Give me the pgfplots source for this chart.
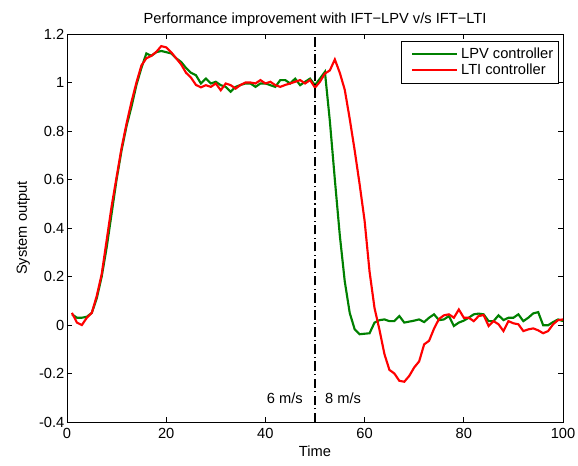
\documentclass[border=0pt]{standalone}
\usepackage{fontspec}
\setmainfont{Liberation Sans}
\usepackage{pgfplots}
\pgfplotsset{compat=1.18}
\definecolor{lpvgreen}{rgb}{0,0.5,0}
\begin{document}
\begin{tikzpicture}
\begin{axis}[
  scale only axis, width=372pt, height=291pt,
  xmin=0, xmax=100, ymin=-0.4, ymax=1.2,
  xtick={0,20,40,60,80,100},
  ytick={-0.4,-0.2,0,0.2,0.4,0.6,0.8,1,1.2},
  tick align=inside, major tick length=4pt,
  axis line style={line width=0.7pt}, tick style={line width=0.6pt, black},
  /pgf/number format/assume math mode=true,
  font=\fontsize{11}{13}\selectfont,
  title={Performance improvement with IFT−LPV v/s IFT−LTI},
  title style={yshift=-4pt},
  xticklabel style={yshift=-1pt}, yticklabel style={xshift=1.5pt},
  xlabel={Time}, ylabel={System output},
  xlabel style={yshift=1pt}, ylabel style={yshift=0pt},
  legend style={at={(rel axis cs:0.992,0.983)}, anchor=north east, draw=black,
    line width=0.6pt, inner xsep=2pt, inner ysep=3pt, row sep=-1.5pt,
    nodes={inner xsep=2pt}},
  legend cell align=left,
  legend image code/.code={\path (-5pt,0pt); \draw[#1] plot coordinates {(0pt,0pt) (34pt,0pt)};},
]
\addplot[lpvgreen, line width=1.6pt] coordinates {
(1,0.044) (2,0.03) (3,0.03) (4,0.034) (5,0.05) (6,0.11) (7,0.20) (8,0.32) (9,0.46) (10,0.60)
(11,0.72) (12,0.82) (13,0.90) (14,0.99) (15,1.06) (16,1.12) (17,1.11) (18,1.125) (19,1.13) (20,1.125)
(21,1.12) (22,1.10) (23,1.085) (24,1.06) (25,1.04) (26,1.03) (27,0.996) (28,1.016) (29,0.996) (30,1.003)
(31,0.989) (32,0.982) (33,0.962) (34,0.982) (35,0.99) (36,0.996) (37,0.996) (38,0.982) (39,0.996) (40,0.996)
(41,0.989) (42,0.982) (43,1.01) (44,1.01) (45,0.996) (46,1.016) (47,0.989) (48,1.003) (49,1.016) (50,0.989)
(51,1.016) (52,1.044) (53,0.84) (54,0.6) (55,0.37) (56,0.18) (57,0.05) (58,-0.018) (59,-0.038) (60,-0.036)
(61,-0.034) (62,0.01) (63,0.02) (64,0.023) (65,0.016) (66,0.016) (67,0.037) (68,0.01) (69,0.014) (70,0.018)
(71,0.023) (72,0.012) (73,0.03) (74,0.044) (75,0.02) (76,0.023) (77,0.037) (78,-0.004) (79,0.01) (80,0.018)
(81,0.03) (82,0.044) (83,0.047) (84,0.044) (85,0.016) (86,0.016) (87,0.04) (88,0.02) (89,0.03) (90,0.03)
(91,0.044) (92,0.016) (93,0.03) (94,0.048) (95,0.053) (96,-0.001) (97,-0.001) (98,0.012) (99,0.023) (100,0.016)
};
\addlegendentry{LPV controller}
\addplot[red, line width=1.6pt] coordinates {
(1,0.05) (2,0.01) (3,0.0) (4,0.03) (5,0.05) (6,0.12) (7,0.21) (8,0.35) (9,0.49) (10,0.61)
(11,0.73) (12,0.83) (13,0.92) (14,1.0) (15,1.07) (16,1.10) (17,1.11) (18,1.126) (19,1.15) (20,1.145)
(21,1.125) (22,1.10) (23,1.075) (24,1.04) (25,1.02) (26,0.99) (27,0.98) (28,0.989) (29,0.982) (30,0.996)
(31,0.968) (32,0.996) (33,0.989) (34,0.975) (35,0.99) (36,1.0) (37,1.0) (38,0.996) (39,1.01) (40,0.996)
(41,1.003) (42,0.989) (43,0.982) (44,0.99) (45,0.996) (46,1.003) (47,1.01) (48,0.996) (49,1.01) (50,0.979)
(51,1.003) (52,1.037) (53,1.05) (54,1.095) (55,1.04) (56,0.97) (57,0.85) (58,0.72) (59,0.58) (60,0.43)
(61,0.22) (62,0.07) (63,-0.02) (64,-0.12) (65,-0.185) (66,-0.2) (67,-0.23) (68,-0.234) (69,-0.21) (70,-0.175)
(71,-0.15) (72,-0.08) (73,-0.065) (74,-0.015) (75,0.025) (76,0.04) (77,0.044) (78,0.03) (79,0.064) (80,0.03)
(81,0.03) (82,0.016) (83,0.037) (84,0.041) (85,-0.004) (86,0.016) (87,0.003) (88,-0.025) (89,0.016) (90,0.007)
(91,0.003) (92,-0.025) (93,-0.018) (94,-0.014) (95,-0.022) (96,-0.034) (97,-0.025) (98,0.003) (99,0.02) (100,0.023)
};
\addlegendentry{LTI controller}
\addplot[black, line width=1.8pt, dash pattern=on 7pt off 2.5pt on 0.8pt off 2.5pt, forget plot]
  coordinates {(50,-0.4) (50,1.2)};
\node[anchor=east, inner sep=0pt] at (axis cs:47.6,-0.302) {6 m/s};
\node[anchor=west, inner sep=0pt] at (axis cs:52,-0.302) {8 m/s};
\end{axis}
\pgfresetboundingbox
\path (current axis.south west) ++(-50.25pt,-32.25pt) rectangle ([shift={(11.25pt,25.5pt)}]current axis.north east);
\end{tikzpicture}
\end{document}
